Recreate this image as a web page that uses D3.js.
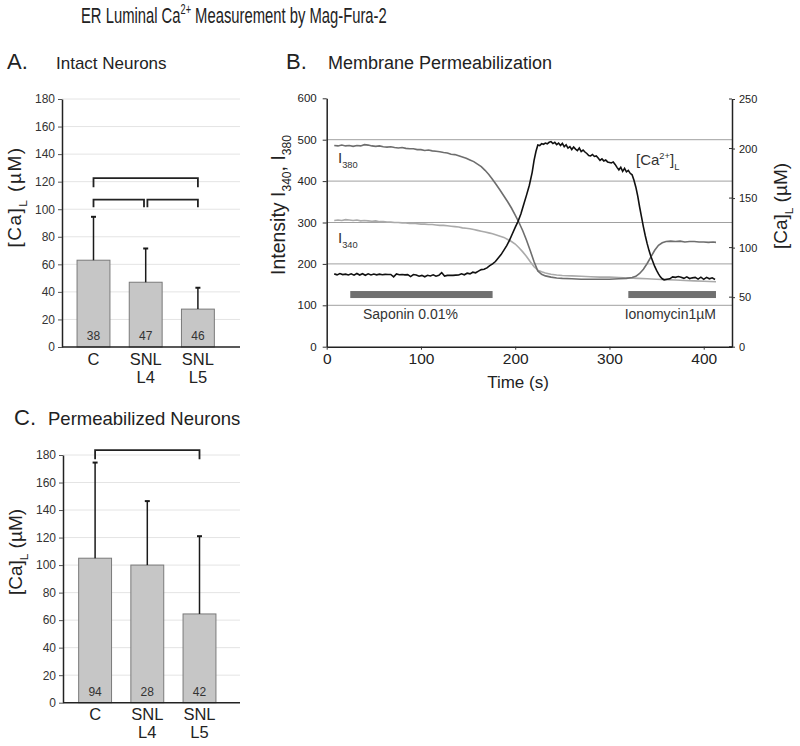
<!DOCTYPE html>
<html>
<head>
<meta charset="utf-8">
<script src="https://cdn.jsdelivr.net/npm/d3@7"></script>
<style>
body { margin: 0; background: #fff; }
svg { display: block; font-family: "Liberation Sans", Arial, sans-serif; }
</style>
</head>
<body>
<div id="chart"></div>
<script>
//Dados dos painéis de barras
var barCats = ["C", "SNL L4", "SNL L5"];
var barLabels = [["C"], ["SNL", "L4"], ["SNL", "L5"]];
var barTicks = [0, 20, 40, 60, 80, 100, 120, 140, 160, 180];
var intactMean = [63, 47, 27.5];
var intactErr = [31.5, 24.5, 15.5];
var intactN = [38, 47, 46];
var permMean = [105, 100, 64.5];
var permErr = [69.5, 46.5, 56.5];
var permN = [94, 28, 42];
//Colchetes: [de, até, nível, pé]
var intactBrackets = [[0, 2, 122.5, 116], [0, 1, 107, 101.5], [1, 2, 107, 101.5]];
var permBrackets = [[0, 2, 183.5, 177]];

//Dados do painel B (tempo em s, intensidade / [Ca] em µM)
var timeTicks = [0, 100, 200, 300, 400];
var intensityTicks = [0, 100, 200, 300, 400, 500, 600];
var caTicks = [0, 50, 100, 150, 200, 250];
var i380 = [[8,486],[12,485],[16,487],[20,485],[24,486],[28,484],[32,486],[36,485],[40,488],[44,487],[48,485],[52,484],[56,485],[60,483],[64,482],[68,483],[72,481],[76,480],[80,481],[84,479],[88,478],[92,478],[96,476],[100,476],[104,474],[108,475],[112,473],[116,472],[120,471],[124,469],[128,468],[132,465],[136,464],[140,461],[144,458],[148,455],[152,451],[156,447],[160,441],[164,435],[168,426],[172,416],[176,404],[180,391],[184,378],[188,364],[192,350],[196,335],[200,318],[204,300],[208,280],[212,257],[216,232],[220,205],[224,183],[228,175],[232,171],[238,168],[244,166],[250,165],[260,164],[270,163],[280,163],[290,163],[300,163],[310,164],[318,165],[324,167],[328,170],[332,177],[336,187],[340,201],[344,217],[348,233],[352,245],[356,251],[360,254],[365,255],[370,254],[375,255],[380,253],[385,254],[390,254],[395,253],[400,253],[405,252],[410,253],[413,252]];
var i340 = [[8,305],[12,306],[16,305],[20,307],[24,306],[28,305],[32,306],[36,304],[40,305],[44,304],[48,303],[52,304],[56,302],[60,302],[64,301],[68,301],[72,300],[76,300],[80,299],[84,299],[88,298],[92,298],[96,297],[100,296],[104,296],[108,295],[112,295],[116,294],[120,293],[124,293],[128,292],[132,291],[136,290],[140,289],[144,287],[148,286],[152,285],[156,283],[160,281],[164,279],[168,277],[172,275],[176,273],[180,270],[184,267],[188,264],[192,259],[196,254],[200,248],[204,239],[208,229],[212,218],[216,205],[220,193],[224,185],[228,181],[232,178],[238,175],[244,173],[250,172],[260,171],[270,170],[280,169],[290,168],[300,168],[310,167],[320,166],[330,165],[340,164],[350,163],[360,162],[370,161],[380,160],[390,159],[400,158],[413,157]];
var caLum = [[8,73.5],[11,72.5],[14,73.8],[17,72.8],[20,73.2],[23,72.4],[26,73.6],[29,72.2],[32,73.9],[35,72.3],[38,73.7],[41,72.1],[44,73.5],[47,72.4],[50,73.3],[53,72.5],[56,73.2],[59,72.6],[62,73.0],[65,72.8],[68,72.9],[71,70.5],[74,73.5],[77,72.6],[80,72.9],[83,72.5],[86,72.7],[89,70.8],[92,72.8],[95,72.4],[98,71.2],[101,72.0],[104,70.6],[107,72.1],[110,71.4],[113,72.6],[116,71.1],[119,72.0],[122,74.8],[125,71.3],[128,72.0],[131,72.1],[134,72.0],[137,72.2],[140,72.4],[143,73.6],[146,72.6],[149,74.2],[152,73.5],[155,75.2],[158,74.6],[161,76.3],[164,77.8],[167,78.2],[170,79.5],[173,81.8],[176,83.5],[179,86.0],[182,89.5],[185,93.0],[188,97.5],[191,102.0],[194,107.5],[197,114.0],[200,120.5],[203,126.5],[206,134.0],[209,143.5],[212,153.0],[215,163.0],[218,176.0],[220,188.0],[222,197.0],[224,203.5],[226,203.0],[228,205.0],[230,204.3],[232,205.5],[234,204.8],[236,206.3],[238,207.0],[240,205.0],[242,206.2],[244,204.0],[246,205.5],[248,203.0],[250,205.2],[252,201.8],[254,203.8],[256,200.5],[258,202.0],[260,199.0],[262,201.5],[264,199.5],[266,198.0],[268,200.5],[270,197.0],[272,198.5],[274,196.5],[276,195.0],[278,193.0],[280,192.5],[282,194.0],[284,192.0],[286,192.5],[288,190.5],[290,188.0],[292,189.5],[294,187.5],[296,188.5],[298,186.5],[300,186.0],[302,185.5],[304,186.5],[306,184.0],[308,181.0],[310,178.5],[312,181.0],[314,177.0],[316,180.0],[318,176.5],[320,178.0],[322,175.0],[324,173.5],[326,168.0],[328,161.0],[330,152.0],[332,141.0],[334,131.0],[336,121.0],[338,112.0],[340,104.0],[342,97.0],[344,91.0],[346,86.0],[348,81.0],[350,77.0],[352,73.5],[354,70.5],[356,68.5],[358,67.5],[361,68.0],[364,68.5],[367,70.5],[370,70.0],[373,70.8],[376,70.2],[379,69.0],[382,70.5],[385,68.8],[388,69.5],[391,70.0],[394,68.2],[397,70.2],[400,68.0],[403,70.0],[406,68.5],[409,69.5],[412,67.8]];
//Barras de tratamento: [início, fim, nível (eixo esquerdo)]
var saponinBar = [25, 176, 126];
var ionoBar = [320, 413, 126];

(function () {
	'use strict';
	var svg = d3.select("#chart").append("svg")
		.attr("width", 800)
		.attr("height", 746);

	//Texto com índices (0 normal, 1 subscrito, 2 sobrescrito)
	function rich(text, parts, size) {
		var off = 0;
		parts.forEach(function (p) {
			var target = p[1] === 1 ? size * 0.3 : (p[1] === 2 ? -size * 0.38 : 0);
			text.append("tspan")
				.attr("dy", target - off)
				.attr("font-size", p[1] ? size * 0.62 : size)
				.text(p[0]);
			off = target;
		});
		return text;
	}

	//Título geral (fonte estreita: comprime na horizontal até 306px)
	var tg = svg.append("g");
	var tt = rich(tg.append("text").attr("x", 0).attr("y", 0).attr("fill", "#222"),
		[["ER Luminal Ca", 0], ["2+", 2], [" Measurement by Mag-Fura-2", 0]], 22.5);
	var tw = tt.node().getBBox().width;
	tg.attr("transform", "translate(81,23) scale(" + (306 / tw) + ",1)");

	//Títulos dos painéis
	function panelTitle(x1, x2, y, letter, name, s2) {
		svg.append("text").attr("x", x1).attr("y", y).attr("font-size", 22).attr("fill", "#222").text(letter);
		svg.append("text").attr("x", x2).attr("y", y).attr("font-size", s2).attr("fill", "#222").text(name);
	}
	panelTitle(7, 56, 69, "A.", "Intact Neurons", 17);
	panelTitle(286, 328, 69, "B.", "Membrane Permeabilization", 18);
	panelTitle(14, 48, 425, "C.", "Permeabilized Neurons", 18.5);

	//Painel de barras
	function barPanel(o) {
		var g = svg.append("g");
		var y = d3.scaleLinear().domain([0, 180]).range([o.bottom, o.top]);
		var x = d3.scaleBand().domain(barCats).range([o.bandL, o.bandR])
			.paddingInner(0.37).paddingOuter(0.185);
		//Grade
		g.selectAll(".grid").data(barTicks.slice(1)).enter().append("line")
			.attr("x1", o.left).attr("x2", o.right)
			.attr("y1", function (d) { return y(d); }).attr("y2", function (d) { return y(d); })
			.attr("stroke", "#e4e4e4");
		//Barras
		g.selectAll(".bar").data(o.mean).enter().append("rect")
			.attr("x", function (d, i) { return x(barCats[i]); })
			.attr("y", function (d) { return y(d); })
			.attr("width", x.bandwidth())
			.attr("height", function (d) { return y(0) - y(d); })
			.attr("fill", "#c6c6c6").attr("stroke", "#7a7a7a");
		//Barras de erro
		var cx = function (i) { return x(barCats[i]) + x.bandwidth() / 2; };
		o.mean.forEach(function (m, i) {
			g.append("line").attr("x1", cx(i)).attr("x2", cx(i))
				.attr("y1", y(m)).attr("y2", y(m + o.err[i]))
				.attr("stroke", "#1a1a1a").attr("stroke-width", 1.5);
			g.append("line").attr("x1", cx(i) - 2.5).attr("x2", cx(i) + 2.5)
				.attr("y1", y(m + o.err[i])).attr("y2", y(m + o.err[i]))
				.attr("stroke", "#1a1a1a").attr("stroke-width", 2);
			g.append("text").attr("x", cx(i)).attr("y", y(0) - 7)
				.attr("text-anchor", "middle").attr("font-size", 12).attr("fill", "#333")
				.text(o.n[i]);
			barLabels[i].forEach(function (s, k) {
				g.append("text").attr("x", cx(i)).attr("y", y(0) + o.lab + k * 18.3)
					.attr("text-anchor", "middle").attr("font-size", 16.5).attr("fill", "#222")
					.text(s);
			});
		});
		//Colchetes de significância
		o.brackets.forEach(function (b) {
			var xa = cx(b[0]) + (b[0] === 1 ? 1.7 : 0);
			var xb = cx(b[1]) - (b[1] === 1 ? 1.7 : 0);
			g.append("path")
				.attr("d", "M" + xa + "," + y(b[3]) + "V" + y(b[2]) + "H" + xb + "V" + y(b[3]))
				.attr("fill", "none").attr("stroke", "#222").attr("stroke-width", 1.8);
		});
		//Eixos
		var ax = g.append("g").attr("transform", "translate(" + o.left + ",0)")
			.call(d3.axisLeft(y).tickValues(barTicks).tickSize(4).tickSizeOuter(0).tickPadding(3));
		ax.select(".domain").attr("stroke", "#222").attr("stroke-width", 1.5);
		ax.selectAll(".tick line").attr("stroke", "#555");
		ax.selectAll(".tick text").attr("font-size", 12).attr("fill", "#333")
			.style("font-family", "'Liberation Sans', Arial, sans-serif");
		g.append("line").attr("x1", o.left).attr("x2", o.right)
			.attr("y1", y(0)).attr("y2", y(0))
			.attr("stroke", "#222").attr("stroke-width", 1.5);
		//Título do eixo Y
		rich(g.append("text").attr("transform", "translate(" + o.tx + "," + o.ty + ") rotate(-90)")
			.attr("text-anchor", "middle").attr("fill", "#222").attr("letter-spacing", o.ls),
			[["[Ca]", 0], ["L", 1], [" (\u00b5M)", 0]], 19);
	}

	barPanel({ left: 62, right: 240, top: 99, bottom: 347, bandL: 67.4, bandR: 224,
		mean: intactMean, err: intactErr, n: intactN, brackets: intactBrackets,
		lab: 18, tx: 21, ty: 197, ls: 1.5 });
	barPanel({ left: 63, right: 240, top: 455, bottom: 702.7, bandL: 69, bandR: 225.6,
		mean: permMean, err: permErr, n: permN, brackets: permBrackets,
		lab: 17.3, tx: 22, ty: 552, ls: 0 });

	//Painel B: traços de fluorescência
	var m = { left: 326.7, right: 732, top: 98.3, bottom: 346.7 };
	var x = d3.scaleLinear().domain([0, 430]).range([m.left, m.right]);
	var yL = d3.scaleLinear().domain([0, 600]).range([m.bottom, m.top]);
	var yR = d3.scaleLinear().domain([0, 250]).range([m.bottom, 99]);
	var gb = svg.append("g");

	gb.selectAll(".gridB").data(intensityTicks.slice(1, 6)).enter().append("line")
		.attr("x1", m.left).attr("x2", m.right)
		.attr("y1", function (d) { return yL(d); }).attr("y2", function (d) { return yL(d); })
		.attr("stroke", "#a0a0a0");

	//Barras de tratamento
	[saponinBar, ionoBar].forEach(function (b) {
		gb.append("rect").attr("x", x(b[0])).attr("width", x(b[1]) - x(b[0]))
			.attr("y", yL(b[2]) - 3.5).attr("height", 7).attr("fill", "#707070");
	});

	var lineL = d3.line().x(function (d) { return x(d[0]); }).y(function (d) { return yL(d[1]); });
	var lineR = d3.line().x(function (d) { return x(d[0]); }).y(function (d) { return yR(d[1]); });
	gb.append("path").attr("d", lineL(i340)).attr("fill", "none").attr("stroke", "#aaaaaa").attr("stroke-width", 1.6);
	gb.append("path").attr("d", lineL(i380)).attr("fill", "none").attr("stroke", "#6e6e6e").attr("stroke-width", 1.6);
	gb.append("path").attr("d", lineR(caLum)).attr("fill", "none").attr("stroke", "#111").attr("stroke-width", 1.6);

	//Eixos do painel B
	function styleAxis(a, fs) {
		a.select(".domain").attr("stroke", "#222").attr("stroke-width", 1.5);
		a.selectAll(".tick line").attr("stroke", "#333");
		a.selectAll(".tick text").attr("font-size", fs).attr("fill", "#222")
			.style("font-family", "'Liberation Sans', Arial, sans-serif");
	}
	styleAxis(gb.append("g").attr("transform", "translate(" + m.left + ",0)")
		.call(d3.axisLeft(yL).tickValues(intensityTicks).tickSize(4).tickSizeOuter(0).tickPadding(6)), 11.5);
	styleAxis(gb.append("g").attr("transform", "translate(" + m.right + ",0)")
		.call(d3.axisRight(yR).tickValues(caTicks).tickSize(3).tickSizeOuter(0).tickPadding(4)), 11);
	gb.selectAll(".rtick").data(caTicks).enter().append("line")
		.attr("x1", m.right - 3).attr("x2", m.right)
		.attr("y1", function (d) { return yR(d); }).attr("y2", function (d) { return yR(d); })
		.attr("stroke", "#333");
	styleAxis(gb.append("g").attr("transform", "translate(0," + m.bottom + ")")
		.call(d3.axisBottom(x).tickValues(timeTicks).tickSize(3).tickSizeOuter(0).tickPadding(3)), 15.5);

	//Rótulos do painel B
	rich(gb.append("text").attr("x", 338).attr("y", 163).attr("fill", "#333"), [["I", 0], ["380", 1]], 15);
	rich(gb.append("text").attr("x", 338).attr("y", 243).attr("fill", "#333"), [["I", 0], ["340", 1]], 15);
	rich(gb.append("text").attr("x", 636).attr("y", 165).attr("fill", "#333"), [["[Ca", 0], ["2+", 2], ["]", 0], ["L", 1]], 15);
	gb.append("text").attr("x", 363).attr("y", 319).attr("font-size", 14).attr("fill", "#333").text("Saponin 0.01%");
	gb.append("text").attr("x", 716).attr("y", 319).attr("font-size", 14).attr("fill", "#333")
		.attr("text-anchor", "end").text("Ionomycin1\u00b5M");
	gb.append("text").attr("x", 518).attr("y", 388).attr("font-size", 17).attr("fill", "#222")
		.attr("text-anchor", "middle").text("Time (s)");
	rich(gb.append("text").attr("transform", "translate(285,205) rotate(-90)")
		.attr("text-anchor", "middle").attr("fill", "#222"),
		[["Intensity I", 0], ["340", 1], [", I", 0], ["380", 1]], 19.5);
	rich(gb.append("text").attr("transform", "translate(787,206) rotate(-90)")
		.attr("text-anchor", "middle").attr("fill", "#222"),
		[["[Ca]", 0], ["L", 1], [" (\u00b5M)", 0]], 19);
}());
</script>
</body>
</html>
